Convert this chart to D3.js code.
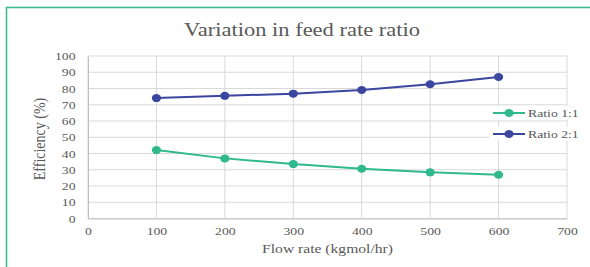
<!DOCTYPE html>
<html><head><meta charset="utf-8">
<script src="https://cdn.jsdelivr.net/npm/d3@7"></script>
<style>body{margin:0;background:#fff}svg{display:block}</style>
</head><body>
<script>
const flowRates = [100, 200, 300, 400, 500, 600];
const ratio11 = [42.1, 37.0, 33.5, 30.6, 28.4, 26.9];
const ratio21 = [74.1, 75.5, 76.8, 79.1, 82.6, 87.1];
const xTicks = [0, 100, 200, 300, 400, 500, 600, 700];
const yTicks = [0, 10, 20, 30, 40, 50, 60, 70, 80, 90, 100];
const seriesNames = ["Ratio 1:1", "Ratio 2:1"];
const seriesColors = ["#2fb98c", "#3a46a0"];

const W = 590, H = 267;
const SX = 1.25; // horizontal stretch of the original picture's text
const svg = d3.select("body").append("svg").attr("width", W).attr("height", H);
const font = "'Liberation Serif', 'Times New Roman', serif";
const textColor = "#595959";

svg.append("rect").attr("x", 6.5).attr("y", 7.5).attr("width", 600).attr("height", 300)
  .attr("fill", "#fff").attr("stroke", "#35b88d").attr("stroke-width", 1.5);

const x = d3.scaleLinear().domain([0, 700]).range([88, 567]);
const y = d3.scaleLinear().domain([0, 100]).range([218.5, 56]);

svg.append("g").selectAll("line").data(yTicks).join("line")
  .attr("x1", x(0)).attr("x2", x(700)).attr("y1", d => y(d)).attr("y2", d => y(d))
  .attr("stroke", "#d9d9d9").attr("stroke-width", 1);
svg.append("g").selectAll("line").data(xTicks).join("line")
  .attr("y1", y(0)).attr("y2", y(100)).attr("x1", d => x(d)).attr("x2", d => x(d))
  .attr("stroke", "#d9d9d9").attr("stroke-width", 1);

const xAxis = svg.append("g").attr("transform", `translate(0,${y(0)})`)
  .call(d3.axisBottom(x).tickValues(xTicks).tickSize(0).tickPadding(9));
const yAxis = svg.append("g").attr("transform", `translate(${x(0)},0)`)
  .call(d3.axisLeft(y).tickValues(yTicks).tickSize(0).tickPadding(10));
[xAxis, yAxis].forEach(a => {
  a.select(".domain").attr("stroke", "#bfbfbf");
  a.selectAll("text").attr("font-family", font).attr("font-size", 11).attr("fill", textColor)
    .attr("transform", `scale(${SX},1)`);
});

const series = [ratio11, ratio21];
series.forEach((vals, i) => {
  const pts = flowRates.map((f, j) => [f, vals[j]]);
  svg.append("path").datum(pts)
    .attr("d", d3.line().x(d => x(d[0])).y(d => y(d[1])))
    .attr("fill", "none").attr("stroke", seriesColors[i]).attr("stroke-width", 2);
  svg.append("g").selectAll("ellipse").data(pts).join("ellipse")
    .attr("cx", d => x(d[0])).attr("cy", d => y(d[1])).attr("rx", 4.6).attr("ry", 4)
    .attr("fill", seriesColors[i]);
});

function stretchedText(tx, ty, size, anchor, str) {
  return svg.append("text").attr("transform", `translate(${tx},${ty}) scale(${SX},1)`)
    .attr("text-anchor", anchor).attr("font-family", font).attr("font-size", size)
    .attr("fill", textColor).text(str);
}

stretchedText(302, 36, 18, "middle", "Variation in feed rate ratio");
stretchedText((x(0) + x(700)) / 2, 253, 12.5, "middle", "Flow rate (kgmol/hr)");
svg.append("text").attr("transform", `translate(45,139) scale(1.15,1) rotate(-90)`)
  .attr("text-anchor", "middle")
  .attr("font-family", font).attr("font-size", 14).attr("fill", textColor)
  .text("Efficiency (%)");

const legY = [113, 134];
seriesNames.forEach((n, i) => {
  svg.append("rect").attr("x", 490).attr("y", legY[i] - 7).attr("width", 90).attr("height", 14).attr("fill", "#fff");
  svg.append("line").attr("x1", 493).attr("x2", 525).attr("y1", legY[i]).attr("y2", legY[i])
    .attr("stroke", seriesColors[i]).attr("stroke-width", 2);
  svg.append("ellipse").attr("cx", 509).attr("cy", legY[i]).attr("rx", 4.6).attr("ry", 4).attr("fill", seriesColors[i]);
  stretchedText(528, legY[i] + 4, 11, "start", n);
});
</script>
</body></html>
